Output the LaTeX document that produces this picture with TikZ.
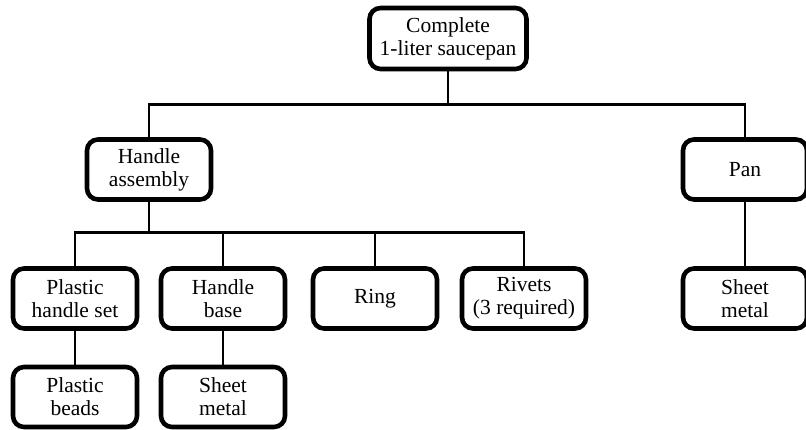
\documentclass[tikz,border=0pt]{standalone}
\usepackage{fontspec}
\setmainfont{Liberation Serif}
\begin{document}
\begin{tikzpicture}[x=1pt, y=-1pt, line width=2.8pt,
	teil/.style={draw, line width=4.6pt, rounded corners=11pt, align=center, inner sep=0pt,
		minimum width=124pt, minimum height=60pt, font=\fontsize{21.5}{23}\selectfont}]
	\useasboundingbox (0,0) rectangle (806,430);
	\node[teil, minimum width=157pt, minimum height=61pt] (topf) at (448,38.5) {Complete\\1-liter saucepan};
	\node[teil] (griff)  at (149,169.5) {Handle\\assembly};
	\node[teil] (pfanne) at (745,169.5) {Pan};
	\node[teil] (kunst)  at (75,298.5)  {Plastic\\handle set};
	\node[teil] (basis)  at (223,298.5) {Handle\\base};
	\node[teil] (ring)   at (375,298.5) {Ring};
	\node[teil] (niet)   at (524,298.5) {Rivets\\(3 required)};
	\node[teil] (blech)  at (745,298.5) {Sheet\\metal};
	\node[teil] (perlen) at (75,397)    {Plastic\\beads};
	\node[teil] (blech2) at (223,397)   {Sheet\\metal};
	%Verbindungen
	\draw (topf.south) -- ++(0,33) -| (griff.north);
	\draw (topf.south) -- ++(0,33) -| (pfanne.north);
	\draw (griff.south) -- ++(0,31) -| (kunst.north);
	\draw (griff.south) -- ++(0,31) -| (basis.north);
	\draw (griff.south) -- ++(0,31) -| (ring.north);
	\draw (griff.south) -- ++(0,31) -| (niet.north);
	\draw (pfanne) -- (blech);
	\draw (kunst) -- (perlen);
	\draw (basis) -- (blech2);
\end{tikzpicture}
\end{document}
